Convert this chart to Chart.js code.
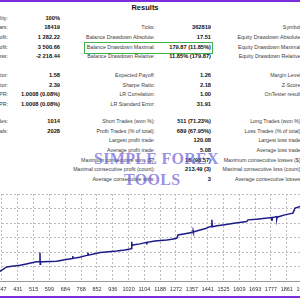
<!DOCTYPE html>
<html>
<head>
<meta charset="utf-8">
<script src="https://cdn.jsdelivr.net/npm/chart.js@4.4.1/dist/chart.umd.min.js"></script>
<style>
  html, body { margin: 0; padding: 0; width: 300px; height: 300px; overflow: hidden; background: #fff; }
  #page { position: relative; width: 300px; height: 300px; overflow: hidden; font-family: "Liberation Sans", Arial, sans-serif; }
  .bar { position: absolute; left: 0; width: 300px; height: 2px; background: #7b2fdc; }
  .t { position: absolute; white-space: nowrap; line-height: 7px; height: 7px; }
  .lab { font-size: 5.3px; color: #3c3c3c; }
  .val { font-size: 5.7px; font-weight: bold; color: #111; }
  #title { position: absolute; top: 3px; left: 0; width: 290px; text-align: center; font-size: 7.5px; font-weight: bold; color: #111; }
  #box { position: absolute; left: 84px; top: 42px; width: 127px; height: 10px; border: 1px solid #3db54a; }
  .wm { position: absolute; z-index: 5; font-family: "Liberation Serif", serif; font-weight: bold; font-size: 16px; color: rgba(100, 88, 215, 0.68); letter-spacing: 0.3px; }
  #wrap { position: absolute; left: -10px; top: 190px; width: 320px; height: 106px; }
</style>
</head>
<body>
<div id="page">
  <div class="bar" style="top:0"></div>
  <div id="title"></div>
  <div id="box"></div>
  <div class="wm" style="left:94px; top:150px;">SIMPLE FOREX</div>
  <div class="wm" style="left:124px; top:171px;">TOOLS</div>
  <div id="wrap"><canvas id="myChart" width="320" height="106"></canvas></div>
  <div class="bar" style="top:296px"></div>
</div>
<script>
const titleText = 'Results';

// report table, one entry per row: [label, value]
const leftCol = [
  ['History Quality:', '100%'], ['Bars:', '18419'], ['Total Net Profit:', '1 282.22'],
  ['Gross Profit:', '3 500.66'], ['Gross Loss:', '-2 218.44'],
  ['Profit Factor:', '1.58'], ['Recovery Factor:', '2.39'], ['AHPR:', '1.0008 (0.08%)'], ['GHPR:', '1.0008 (0.08%)'],
  ['Total Trades:', '1014'], ['Total Deals:', '2028']
];
const midCol = [
  ['', ''], ['Ticks:', '362819'], ['Balance Drawdown Absolute:', '17.51'],
  ['Balance Drawdown Maximal:', '179.87 (11.85%)'], ['Balance Drawdown Relative:', '11.85% (179.87)'],
  ['Expected Payoff:', '1.26'], ['Sharpe Ratio:', '2.18'], ['LR Correlation:', '1.00'], ['LR Standard Error:', '31.91'],
  ['Short Trades (won %):', '511 (71.23%)'], ['Profit Trades (% of total):', '689 (67.95%)'],
  ['Largest profit trade:', '120.08'], ['Average profit trade:', '5.08'],
  ['Maximum consecutive wins ($):', '16 (98.57)'], ['Maximal consecutive profit (count):', '213.49 (3)'],
  ['Average consecutive wins:', '3']
];
const rightCol = [
  '', 'Symbol:', 'Equity Drawdown Absolute:', 'Equity Drawdown Maximal:', 'Equity Drawdown Relative:',
  'Margin Level:', 'Z-Score:', 'OnTester result:', '',
  'Long Trades (won %):', 'Loss Trades (% of total):', 'Largest loss trade:', 'Average loss trade:',
  'Maximum consecutive losses ($):', 'Maximal consecutive loss (count):', 'Average consecutive losses:'
];

// balance graph
const tradeNo = [336, 350, 372, 400, 443, 470, 500, 531, 548, 549, 550, 552, 565, 600, 638, 680, 722, 723, 724,
  760, 803, 804, 806, 840, 868, 900, 957, 1000, 1027, 1035, 1036, 1038, 1043, 1080, 1116, 1117, 1119,
  1160, 1223, 1250, 1276, 1283, 1320, 1362, 1363, 1365, 1400, 1430, 1453, 1462, 1463, 1465, 1490, 1522,
  1580, 1648, 1655, 1700, 1781, 1782, 1785, 1807, 1808, 1810, 1850, 1894, 1905, 1920, 1931, 1960, 1985];
const balance = [1168, 1195, 1243, 1255, 1273, 1290, 1310, 1330, 1335, 1493, 1290, 1330, 1330, 1335, 1342, 1365, 1389, 1430, 1389,
  1410, 1446, 1490, 1446, 1470, 1493, 1500, 1516, 1535, 1550, 1560, 1677, 1600, 1620, 1640, 1667, 1632, 1667,
  1690, 1707, 1720, 1736, 1793, 1815, 1840, 1870, 1845, 1880, 1905, 1937, 1945, 2054, 1935, 1952, 1967,
  1995, 2024, 2054, 2065, 2094, 2036, 2094, 2111, 2070, 2100, 2140, 2170, 2257, 2270, 2285, 2300, 2315];
const xTicks = [347, 431, 515, 599, 684, 768, 852, 936, 1020, 1104, 1188, 1272, 1357, 1441, 1525, 1609, 1693, 1777, 1861, 1945];

// ---- table layout ----
const page = document.getElementById('page');
document.getElementById('title').textContent = titleText;
const rowY = [18, 27.5, 37, 47, 56.5, 75.5, 85, 94.5, 104, 121.5, 131, 140.5, 150, 160, 169.5, 179];

function put(text, cls, rightEdge, y) {
  if (!text) return;
  const d = document.createElement('div');
  d.className = 't ' + cls;
  d.textContent = text;
  d.style.right = (300 - rightEdge) + 'px';
  d.style.top = (y - 3.5) + 'px';
  page.appendChild(d);
}
leftCol.forEach((r, i) => {
  put(r[0], 'lab', 8, rowY[i]);
  put(r[1], 'val', 60, rowY[i]);
});
midCol.forEach((r, i) => {
  put(r[0], 'lab', 155, rowY[i]);
  put(r[1], 'val', 211, rowY[i]);
});
rightCol.forEach((l, i) => put(l, 'lab', 302, rowY[i]));

// ---- chart ----
const pts = tradeNo.map((t, i) => ({ x: t, y: balance[i] }));
const gridCol = '#bdbdbd';

const myChart = new Chart(document.getElementById('myChart'), {
  type: 'line',
  data: {
    datasets: [{
      data: pts,
      borderColor: '#1c1c88',
      borderWidth: 1.5,
      pointRadius: 0,
      tension: 0,
      fill: false
    }]
  },
  options: {
    responsive: false,
    animation: false,
    events: [],
    layout: { padding: { top: 4, left: 0, right: 0, bottom: 0 } },
    plugins: { legend: { display: false }, tooltip: { enabled: false } },
    scales: {
      x: {
        type: 'linear',
        min: 283.2,
        max: 1984.6,
        afterBuildTicks: s => { s.ticks = xTicks.map(v => ({ value: v })); },
        afterFit: s => { s.paddingLeft = 0; s.paddingRight = 0; s.height = 15; },
        ticks: {
          autoSkip: false,
          maxRotation: 0,
          padding: 5,
          color: '#333',
          font: { family: 'Liberation Sans', size: 5.5 },
          callback: v => String(v)
        },
        grid: { color: gridCol, lineWidth: 1, drawTicks: false },
        border: { display: true, color: '#999', dash: [2, 2] }
      },
      y: {
        min: 1000,
        max: 2500,
        ticks: { display: false, stepSize: 250 },
        afterFit: s => { s.width = 0; },
        grid: { color: gridCol, lineWidth: 1, drawTicks: false },
        border: { display: false, dash: [2, 2] }
      }
    }
  }
});
</script>
</body>
</html>
